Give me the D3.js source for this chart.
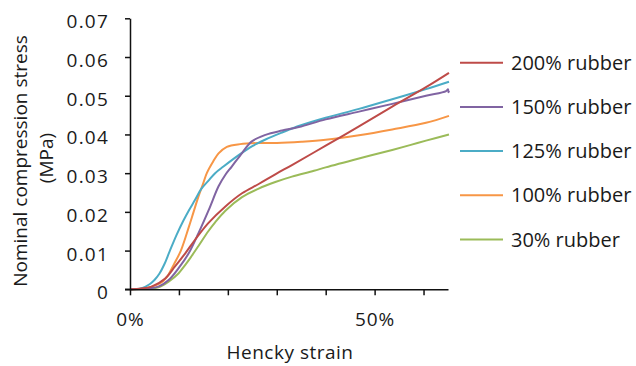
<!DOCTYPE html>
<html>
<head>
<meta charset="utf-8">
<script src="https://cdn.jsdelivr.net/npm/d3@7"></script>
<style>
  body { margin: 0; background: #fff; }
  text { font-family: "Open Sans", sans-serif; fill: #1a1a1a; }
</style>
</head>
<body>
<script>
// stress-strain curves (strain in %, stress in MPa)

var seriesNames = ["200% rubber", "150% rubber", "125% rubber", "100% rubber", "30% rubber"];
var seriesColors = ["#BE4B48", "#8064A2", "#4BACC6", "#F79646", "#9BBB59"];

var strain200 = [0, 2.4, 4.4, 7.2, 9.2, 11.3, 13.3, 16.0, 19.5, 22.9, 26.3, 29.7, 33.1, 40.0, 46.8, 53.6, 60.5, 65.2];
var stress200 = [0, 0.0002, 0.0007, 0.0028, 0.0059, 0.0093, 0.0128, 0.0171, 0.0214, 0.0248, 0.0272, 0.0297, 0.0321, 0.0371, 0.0421, 0.0472, 0.0522, 0.0559];

var strain150 = [0, 3.0, 5.8, 7.9, 9.9, 12.0, 14.0, 16.1, 18.1, 19.5, 20.8, 22.9, 24.9, 27.7, 31.1, 34.5, 40.0, 46.8, 53.6, 60.5, 64.6, 65.0, 65.1, 65.2];
var stress150 = [0, 0.0002, 0.0007, 0.0024, 0.0054, 0.0093, 0.0145, 0.0205, 0.0266, 0.0296, 0.0317, 0.0352, 0.0382, 0.0399, 0.0410, 0.0419, 0.0439, 0.0459, 0.0479, 0.0500, 0.0512, 0.0517, 0.0509, 0.0513];

var strain125 = [0, 2.4, 4.0, 5.0, 6.0, 7.0, 8.1, 9.5, 10.9, 12.0, 13.3, 14.5, 16.0, 17.4, 19.1, 22.5, 25.0, 27.7, 31.1, 34.8, 40.0, 46.8, 53.6, 60.5, 65.2];
var stress125 = [0, 0.0003, 0.0013, 0.0024, 0.0040, 0.0064, 0.0098, 0.0140, 0.0177, 0.0203, 0.0231, 0.0258, 0.0280, 0.0300, 0.0317, 0.0349, 0.0370, 0.0387, 0.0405, 0.0423, 0.0443, 0.0466, 0.0491, 0.0517, 0.0536];

var strain100 = [0, 3.0, 6.1, 7.6, 9.0, 10.4, 12.0, 13.0, 14.0, 15.0, 15.7, 17.0, 18.1, 19.8, 22.5, 26.3, 30.0, 35.0, 40.0, 46.8, 53.6, 60.5, 65.2];
var stress100 = [0, 0.0003, 0.0015, 0.0033, 0.0065, 0.0100, 0.0160, 0.0200, 0.0240, 0.0275, 0.0300, 0.0330, 0.0351, 0.0368, 0.0375, 0.0378, 0.0378, 0.0381, 0.0386, 0.0398, 0.0413, 0.0430, 0.0448];

var strain30 = [0, 3.8, 5.8, 7.9, 9.9, 11.3, 12.6, 14.0, 16.0, 17.4, 19.5, 22.9, 26.3, 29.7, 33.1, 37.6, 40.0, 46.8, 53.6, 57.4, 60.5, 65.2];
var stress30 = [0, 0.0002, 0.0005, 0.0020, 0.0041, 0.0063, 0.0086, 0.0112, 0.0150, 0.0173, 0.0203, 0.0238, 0.0260, 0.0277, 0.0291, 0.0306, 0.0315, 0.0338, 0.0360, 0.0373, 0.0384, 0.0400];

var yTicks = [0, 0.01, 0.02, 0.03, 0.04, 0.05, 0.06, 0.07];
var xTicks = [0, 10, 20, 30, 40, 50, 60];
var xLabels = [0, 50];

var strains = [strain200, strain150, strain125, strain100, strain30];
var stresses = [stress200, stress150, stress125, stress100, stress30];

var width = 636;
var height = 366;

var svg = d3.select("body").append("svg")
    .attr("width", width)
    .attr("height", height);

var x = d3.scaleLinear().domain([0, 65]).range([130, 448]);
var y = d3.scaleLinear().domain([0, 0.07]).range([289.3, 18.3]);

var series = seriesNames.map(function(name, i){
  return {
    name: name,
    color: seriesColors[i],
    points: strains[i].map(function(s, j){ return [s, stresses[i][j]]; })
  };
});

var line = d3.line()
    .x(function(d){ return x(d[0]); })
    .y(function(d){ return y(d[1]); })
    .curve(d3.curveCatmullRom.alpha(0.5));

// curves, drawn back to front
svg.selectAll(".curve")
    .data(series.slice().reverse())
  .enter().append("path")
    .attr("class", "curve")
    .attr("fill", "none")
    .attr("stroke", function(d){ return d.color; })
    .attr("stroke-width", 2)
    .attr("d", function(d){ return line(d.points); });

// axes
var yAxis = svg.append("g")
    .attr("transform", "translate(130,0)")
    .call(d3.axisLeft(y).tickValues(yTicks).tickSize(5).tickSizeOuter(0)
      .tickFormat(function(d){ return d === 0 ? "0" : d3.format(".2f")(d); }));

var xAxis = svg.append("g")
    .attr("transform", "translate(0,289.3)")
    .call(d3.axisBottom(x).tickValues(xTicks).tickSize(6).tickSizeOuter(0)
      .tickFormat(function(d){ return xLabels.indexOf(d) >= 0 ? d + "%" : ""; }));

svg.selectAll(".domain, .tick line")
    .attr("stroke", "#111")
    .attr("stroke-width", 1.5);

// x axis starts a bit left of the y axis
xAxis.append("line")
    .attr("x1", 125).attr("x2", 131)
    .attr("stroke", "#111").attr("stroke-width", 1.5);

yAxis.selectAll(".tick text")
    .attr("x", -21)
    .attr("dy", "0.5em")
    .style("font-size", "19px")
    .style("letter-spacing", "1.2px")
    .style("font-family", "'Open Sans', sans-serif")
    .attr("fill", "#1a1a1a");

xAxis.selectAll(".tick text")
    .attr("y", 23)
    .attr("dy", "0.71em")
    .style("font-size", "19px")
    .style("letter-spacing", "1px")
    .style("font-family", "'Open Sans', sans-serif")
    .attr("fill", "#1a1a1a");

// axis titles
svg.append("text")
    .attr("transform", "translate(27,161) rotate(-90)")
    .attr("text-anchor", "middle")
    .style("font-size", "19px")
    .text("Nominal compression stress");

svg.append("text")
    .attr("transform", "translate(53,158) rotate(-90)")
    .attr("text-anchor", "middle")
    .style("font-size", "19px")
    .text("(MPa)");

svg.append("text")
    .attr("x", 290)
    .attr("y", 359)
    .attr("text-anchor", "middle")
    .style("font-size", "19px")
    .style("letter-spacing", "0.5px")
    .text("Hencky strain");

// legend
var legend = svg.selectAll(".legend")
    .data(series)
  .enter().append("g")
    .attr("class", "legend")
    .attr("transform", function(d, i){ return "translate(460," + (62.7 + i * 44.2) + ")"; });

legend.append("line")
    .attr("x1", 0).attr("x2", 43)
    .attr("stroke", function(d){ return d.color; })
    .attr("stroke-width", 2);

legend.append("text")
    .attr("x", 51)
    .attr("y", 7)
    .style("font-size", "20px")
    .text(function(d){ return d.name; });
</script>
</body>
</html>
